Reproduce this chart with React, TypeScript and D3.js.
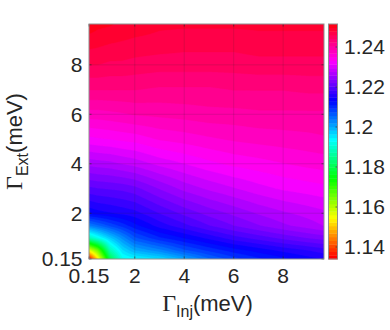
import React, { useMemo } from 'react';
import * as d3 from 'd3';

// Grid coordinates (meV) at which the surface was read
const X_VALUES = [0.15, 0.5, 1, 1.5, 2, 3, 4, 5, 6, 7, 8, 9, 9.65];
const Y_VALUES = [0.15, 0.5, 1, 1.5, 2, 3, 4, 5, 6, 7, 8, 9, 9.65];

// Surface values, one row per Y value (bottom to top), one column per X value
const Z_ROWS = [
  [1.1340, 1.1520, 1.1797, 1.1920, 1.1937, 1.1960, 1.2003, 1.2052, 1.2084, 1.2107, 1.2123, 1.2140, 1.2149],
  [1.1552, 1.1650, 1.1879, 1.1960, 1.2000, 1.2030, 1.2070, 1.2097, 1.2120, 1.2137, 1.2153, 1.2166, 1.2176],
  [1.1879, 1.1921, 1.1976, 1.2025, 1.2070, 1.2107, 1.2130, 1.2153, 1.2176, 1.2192, 1.2208, 1.2222, 1.2229],
  [1.2035, 1.2052, 1.2078, 1.2100, 1.2123, 1.2156, 1.2179, 1.2202, 1.2221, 1.2238, 1.2254, 1.2267, 1.2277],
  [1.2133, 1.2140, 1.2146, 1.2153, 1.2159, 1.2185, 1.2208, 1.2228, 1.2244, 1.2260, 1.2273, 1.2283, 1.2290],
  [1.2198, 1.2202, 1.2205, 1.2208, 1.2215, 1.2241, 1.2264, 1.2280, 1.2293, 1.2306, 1.2316, 1.2322, 1.2326],
  [1.2264, 1.2267, 1.2270, 1.2277, 1.2283, 1.2300, 1.2313, 1.2326, 1.2336, 1.2342, 1.2349, 1.2355, 1.2358],
  [1.2326, 1.2329, 1.2332, 1.2336, 1.2339, 1.2352, 1.2358, 1.2365, 1.2371, 1.2375, 1.2378, 1.2381, 1.2384],
  [1.2378, 1.2378, 1.2381, 1.2384, 1.2388, 1.2391, 1.2394, 1.2398, 1.2398, 1.2401, 1.2401, 1.2401, 1.2401],
  [1.2424, 1.2424, 1.2424, 1.2424, 1.2424, 1.2420, 1.2420, 1.2420, 1.2424, 1.2424, 1.2424, 1.2427, 1.2427],
  [1.2460, 1.2460, 1.2456, 1.2456, 1.2453, 1.2450, 1.2450, 1.2450, 1.2450, 1.2453, 1.2453, 1.2453, 1.2453],
  [1.2489, 1.2486, 1.2482, 1.2479, 1.2476, 1.2473, 1.2469, 1.2469, 1.2469, 1.2473, 1.2473, 1.2473, 1.2473],
  [1.2509, 1.2502, 1.2499, 1.2492, 1.2489, 1.2482, 1.2482, 1.2482, 1.2482, 1.2482, 1.2482, 1.2482, 1.2482],
];

const X_TICKS = [0.15, 2, 4, 6, 8];
const Y_TICKS = [0.15, 2, 4, 6, 8];
const CB_TICKS = [1.14, 1.16, 1.18, 1.2, 1.22, 1.24];
const AXIS_DOMAIN = [0.15, 9.65];
const COLOR_DOMAIN = [1.134, 1.2515];
const N_COLORS = 64;

const W = 390;
const H = 330;
const PLOT = { left: 89, right: 324, top: 24, bottom: 259 };
const CBAR = { left: 328.5, right: 337.5 };
const SANS = '"Liberation Sans", Arial, Helvetica, sans-serif';
const SERIF = '"Liberation Serif", "Times New Roman", serif';
const TEXT = '#262626';
const TICK_FONT = 21;

function surface(x: number, y: number): number {
  const nx = X_VALUES.length;
  const ny = Y_VALUES.length;
  const i = Math.max(0, Math.min(nx - 2, d3.bisectRight(X_VALUES, x) - 1));
  const j = Math.max(0, Math.min(ny - 2, d3.bisectRight(Y_VALUES, y) - 1));
  const tx = Math.max(0, Math.min(1, (x - X_VALUES[i]) / (X_VALUES[i + 1] - X_VALUES[i])));
  const ty = Math.max(0, Math.min(1, (y - Y_VALUES[j]) / (Y_VALUES[j + 1] - Y_VALUES[j])));
  const z00 = Z_ROWS[j][i];
  const z10 = Z_ROWS[j][i + 1];
  const z01 = Z_ROWS[j + 1][i];
  const z11 = Z_ROWS[j + 1][i + 1];
  return (1 - ty) * ((1 - tx) * z00 + tx * z10) + ty * ((1 - tx) * z01 + tx * z11);
}

function hsvColor(k: number): string {
  return d3.hsl((k * 360) / N_COLORS, 1, 0.5).formatHex();
}

export default function App() {
  const xScale = d3.scaleLinear().domain(AXIS_DOMAIN).range([PLOT.left, PLOT.right]);
  const yScale = d3.scaleLinear().domain(AXIS_DOMAIN).range([PLOT.bottom, PLOT.top]);
  const cScale = d3.scaleLinear().domain(COLOR_DOMAIN).range([PLOT.bottom, PLOT.top]);

  const bands = useMemo(() => {
    const pw = PLOT.right - PLOT.left;
    const ph = PLOT.bottom - PLOT.top;
    const values = new Array(pw * ph);
    for (let j = 0; j < ph; j++) {
      const yv = yScale.invert(PLOT.top + j + 0.5);
      for (let i = 0; i < pw; i++) {
        const xv = xScale.invert(PLOT.left + i + 0.5);
        values[j * pw + i] = surface(xv, yv);
      }
    }
    const step = (COLOR_DOMAIN[1] - COLOR_DOMAIN[0]) / N_COLORS;
    const thresholds = d3.range(N_COLORS).map((k) => (k === 0 ? COLOR_DOMAIN[0] - 1 : COLOR_DOMAIN[0] + k * step));
    const contours = d3.contours().size([pw, ph]).smooth(true).thresholds(thresholds)(values);
    const path = d3.geoPath();
    return contours.map((c, k) => ({ d: path(c as any) || '', color: hsvColor(k) }));
  }, []);

  const cbStep = (COLOR_DOMAIN[1] - COLOR_DOMAIN[0]) / N_COLORS;
  const cbBands = d3.range(N_COLORS).map((k) => ({
    y0: cScale(COLOR_DOMAIN[0] + k * cbStep),
    y1: cScale(COLOR_DOMAIN[0] + (k + 1) * cbStep),
    color: hsvColor(k),
  }));

  const plotCx = (PLOT.left + PLOT.right) / 2;
  const plotCy = (PLOT.top + PLOT.bottom) / 2;

  return (
    <svg
      width={W}
      height={H}
      viewBox={`0 0 ${W} ${H}`}
      style={{ position: 'absolute', left: 0, top: 0, background: '#ffffff' }}
    >
      <rect x={0} y={0} width={W} height={H} fill="#ffffff" />
      <defs>
        <clipPath id="plotClip">
          <rect x={PLOT.left} y={PLOT.top} width={PLOT.right - PLOT.left} height={PLOT.bottom - PLOT.top} />
        </clipPath>
      </defs>
      <g clipPath="url(#plotClip)">
        <g transform={`translate(${PLOT.left},${PLOT.top})`}>
          {bands.map((b, k) => (
            <path key={k} d={b.d} fill={b.color} stroke={b.color} strokeWidth={0.3} />
          ))}
        </g>
      </g>

      {/* grid lines */}
      <g stroke="#262626" strokeOpacity={0.15} strokeWidth={1}>
        {X_TICKS.filter((t) => t > AXIS_DOMAIN[0]).map((t) => (
          <line key={`gx${t}`} x1={xScale(t)} x2={xScale(t)} y1={PLOT.top} y2={PLOT.bottom} />
        ))}
        {Y_TICKS.filter((t) => t > AXIS_DOMAIN[0]).map((t) => (
          <line key={`gy${t}`} x1={PLOT.left} x2={PLOT.right} y1={yScale(t)} y2={yScale(t)} />
        ))}
      </g>

      {/* tick marks */}
      <g stroke="#262626" strokeOpacity={0.6} strokeWidth={1}>
        {X_TICKS.map((t) => (
          <g key={`tx${t}`}>
            <line x1={xScale(t)} x2={xScale(t)} y1={PLOT.bottom} y2={PLOT.bottom - 2.5} />
            <line x1={xScale(t)} x2={xScale(t)} y1={PLOT.top} y2={PLOT.top + 2.5} />
          </g>
        ))}
        {Y_TICKS.map((t) => (
          <g key={`ty${t}`}>
            <line x1={PLOT.left} x2={PLOT.left + 2.5} y1={yScale(t)} y2={yScale(t)} />
            <line x1={PLOT.right} x2={PLOT.right - 2.5} y1={yScale(t)} y2={yScale(t)} />
          </g>
        ))}
      </g>

      {/* axes box */}
      <rect
        x={PLOT.left}
        y={PLOT.top}
        width={PLOT.right - PLOT.left}
        height={PLOT.bottom - PLOT.top}
        fill="none"
        stroke="#8f8f8f"
        strokeWidth={1}
      />

      {/* tick labels */}
      <g fontFamily={SANS} fontSize={TICK_FONT} fill={TEXT}>
        {X_TICKS.map((t) => (
          <text key={`lx${t}`} x={xScale(t)} y={283} textAnchor="middle">
            {String(t)}
          </text>
        ))}
        {Y_TICKS.map((t) => (
          <text key={`ly${t}`} x={82.5} y={yScale(t) + 7.3} textAnchor="end">
            {String(t)}
          </text>
        ))}
      </g>

      {/* x label */}
      <text x={plotCx + 1} y={311} textAnchor="middle" fill={TEXT}>
        <tspan fontFamily={SERIF} fontSize={24}>Γ</tspan>
        <tspan fontFamily={SANS} fontSize={16} dy={6}>Inj</tspan>
        <tspan fontFamily={SANS} fontSize={22} dy={-6}>(meV)</tspan>
      </text>

      {/* y label */}
      <text transform={`translate(22,${plotCy}) rotate(-90)`} textAnchor="middle" fill={TEXT}>
        <tspan fontFamily={SERIF} fontSize={24}>Γ</tspan>
        <tspan fontFamily={SANS} fontSize={16} dy={6}>Ext</tspan>
        <tspan fontFamily={SANS} fontSize={22} dy={-6}>(meV)</tspan>
      </text>

      {/* colorbar */}
      <g>
        {cbBands.map((b, k) => (
          <rect
            key={`cb${k}`}
            x={CBAR.left}
            y={b.y1}
            width={CBAR.right - CBAR.left}
            height={b.y0 - b.y1 + 0.4}
            fill={b.color}
          />
        ))}
        <g stroke="#262626" strokeOpacity={0.6}>
          {CB_TICKS.map((t) => (
            <line key={`cbt${t}`} x1={CBAR.right} x2={CBAR.right - 2} y1={cScale(t)} y2={cScale(t)} />
          ))}
        </g>
        <rect
          x={CBAR.left}
          y={PLOT.top}
          width={CBAR.right - CBAR.left}
          height={PLOT.bottom - PLOT.top}
          fill="none"
          stroke="#8f8f8f"
          strokeWidth={1}
        />
        <g fontFamily={SANS} fontSize={TICK_FONT} fill={TEXT}>
          {CB_TICKS.map((t) => (
            <text key={`cbl${t}`} x={344} y={cScale(t) + 7.3}>
              {String(t)}
            </text>
          ))}
        </g>
      </g>
    </svg>
  );
}
